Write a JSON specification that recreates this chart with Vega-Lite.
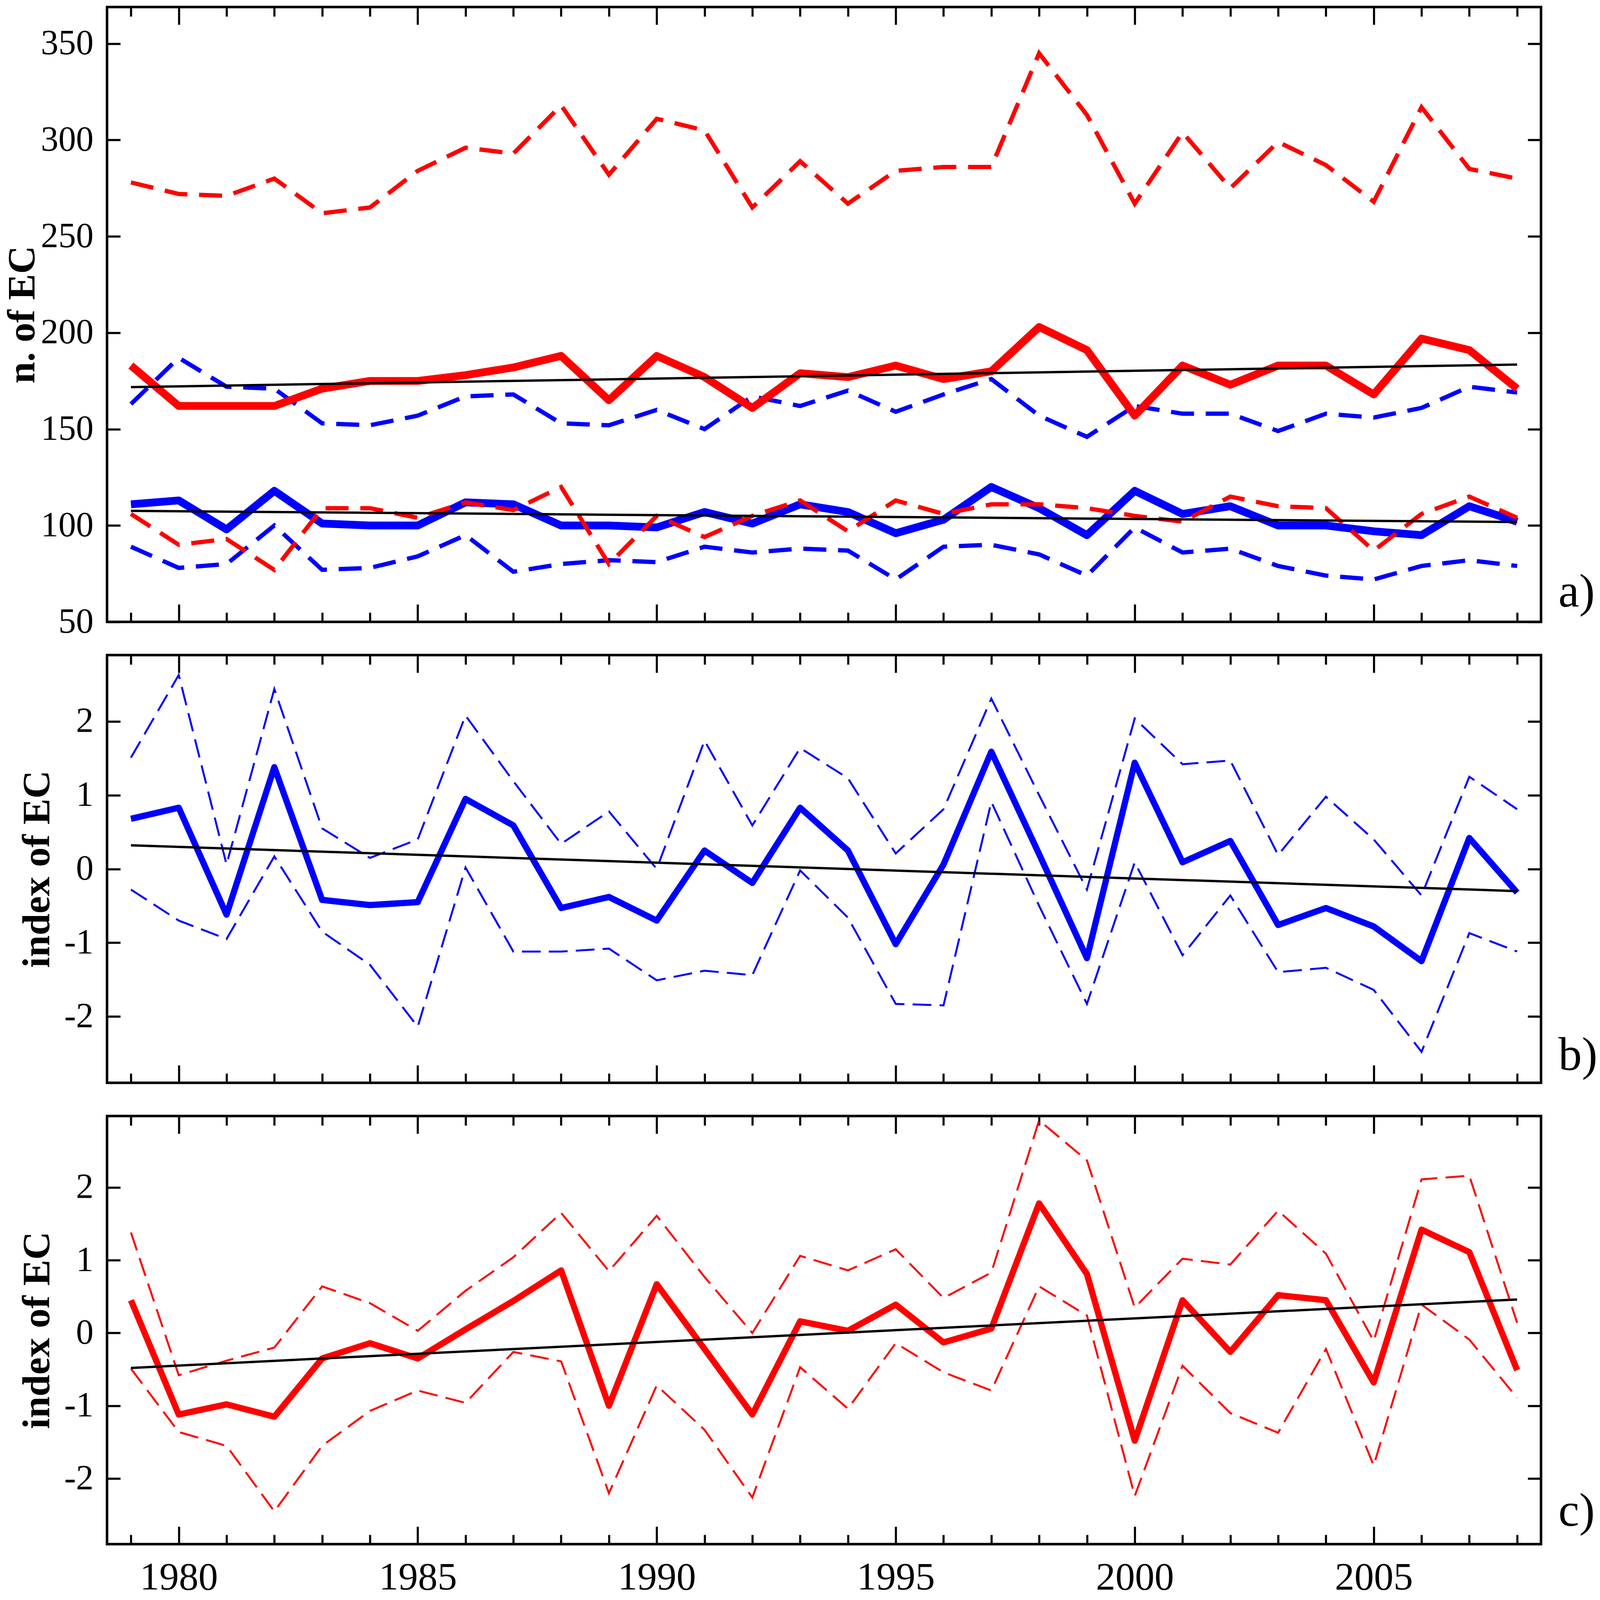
{
  "$schema": "https://vega.github.io/schema/vega-lite/v6.json",
  "background": "white",
  "padding": {"left": 3, "top": 12, "right": 0, "bottom": 0},
  "spacing": 85,
  "bounds": "flush",
  "config": {
    "view": {"stroke": "black", "strokeWidth": 6.5},
    "axis": {
      "domain": false, "grid": false,
      "tickColor": "black", "tickWidth": 5.4,
      "labelFont": "Liberation Serif", "labelFontSize": 90, "labelColor": "black", "labelLimit": 0,
      "titleFont": "Liberation Serif", "titleFontSize": 100, "titleFontWeight": "bold", "titleColor": "black", "titleLimit": 0,
      "titleBaseline": "alphabetic",
      "maxExtent": 2000
    }
  },
  "datasets": {
    "a": [
      {"year": 1979, "rd1": 278, "rs": 183, "bd1": 163, "bs": 111, "rd2": 106, "bd2": 89},
      {"year": 1980, "rd1": 272, "rs": 162, "bd1": 187, "bs": 113, "rd2": 90, "bd2": 78},
      {"year": 1981, "rd1": 271, "rs": 162, "bd1": 172, "bs": 98, "rd2": 93, "bd2": 80},
      {"year": 1982, "rd1": 280, "rs": 162, "bd1": 171, "bs": 118, "rd2": 77, "bd2": 100},
      {"year": 1983, "rd1": 262, "rs": 171, "bd1": 153, "bs": 101, "rd2": 109, "bd2": 77},
      {"year": 1984, "rd1": 265, "rs": 175, "bd1": 152, "bs": 100, "rd2": 109, "bd2": 78},
      {"year": 1985, "rd1": 284, "rs": 175, "bd1": 157, "bs": 100, "rd2": 104, "bd2": 84},
      {"year": 1986, "rd1": 296, "rs": 178, "bd1": 167, "bs": 112, "rd2": 112, "bd2": 95},
      {"year": 1987, "rd1": 293, "rs": 182, "bd1": 168, "bs": 111, "rd2": 108, "bd2": 76},
      {"year": 1988, "rd1": 318, "rs": 188, "bd1": 153, "bs": 100, "rd2": 120, "bd2": 80},
      {"year": 1989, "rd1": 282, "rs": 165, "bd1": 152, "bs": 100, "rd2": 80, "bd2": 82},
      {"year": 1990, "rd1": 311, "rs": 188, "bd1": 160, "bs": 99, "rd2": 105, "bd2": 81},
      {"year": 1991, "rd1": 305, "rs": 177, "bd1": 150, "bs": 107, "rd2": 94, "bd2": 89},
      {"year": 1992, "rd1": 265, "rs": 161, "bd1": 167, "bs": 101, "rd2": 105, "bd2": 86},
      {"year": 1993, "rd1": 289, "rs": 179, "bd1": 162, "bs": 111, "rd2": 113, "bd2": 88},
      {"year": 1994, "rd1": 267, "rs": 177, "bd1": 170, "bs": 107, "rd2": 97, "bd2": 87},
      {"year": 1995, "rd1": 284, "rs": 183, "bd1": 159, "bs": 96, "rd2": 113, "bd2": 72},
      {"year": 1996, "rd1": 286, "rs": 176, "bd1": 168, "bs": 103, "rd2": 106, "bd2": 89},
      {"year": 1997, "rd1": 286, "rs": 180, "bd1": 176, "bs": 120, "rd2": 111, "bd2": 90},
      {"year": 1998, "rd1": 345, "rs": 203, "bd1": 157, "bs": 109, "rd2": 111, "bd2": 85},
      {"year": 1999, "rd1": 313, "rs": 191, "bd1": 146, "bs": 95, "rd2": 109, "bd2": 74},
      {"year": 2000, "rd1": 267, "rs": 157, "bd1": 162, "bs": 118, "rd2": 105, "bd2": 99},
      {"year": 2001, "rd1": 304, "rs": 183, "bd1": 158, "bs": 106, "rd2": 102, "bd2": 86},
      {"year": 2002, "rd1": 275, "rs": 173, "bd1": 158, "bs": 110, "rd2": 115, "bd2": 88},
      {"year": 2003, "rd1": 299, "rs": 183, "bd1": 149, "bs": 100, "rd2": 110, "bd2": 79},
      {"year": 2004, "rd1": 287, "rs": 183, "bd1": 158, "bs": 100, "rd2": 109, "bd2": 74},
      {"year": 2005, "rd1": 268, "rs": 168, "bd1": 156, "bs": 97, "rd2": 87, "bd2": 72},
      {"year": 2006, "rd1": 317, "rs": 197, "bd1": 161, "bs": 95, "rd2": 106, "bd2": 79},
      {"year": 2007, "rd1": 285, "rs": 191, "bd1": 172, "bs": 110, "rd2": 115, "bd2": 82},
      {"year": 2008, "rd1": 280, "rs": 171, "bd1": 169, "bs": 102, "rd2": 104, "bd2": 79}
    ],
    "ta": [
      {"year": 1979, "t1": 171.8, "t2": 107.6},
      {"year": 2008, "t1": 183.5, "t2": 101.8}
    ],
    "b": [
      {"year": 1979, "s": 0.68, "u": 1.51, "l": -0.28},
      {"year": 1980, "s": 0.83, "u": 2.63, "l": -0.7},
      {"year": 1981, "s": -0.62, "u": 0.06, "l": -0.95},
      {"year": 1982, "s": 1.38, "u": 2.44, "l": 0.17},
      {"year": 1983, "s": -0.42, "u": 0.55, "l": -0.85},
      {"year": 1984, "s": -0.49, "u": 0.15, "l": -1.3},
      {"year": 1985, "s": -0.45, "u": 0.4, "l": -2.14},
      {"year": 1986, "s": 0.95, "u": 2.08, "l": 0.02},
      {"year": 1987, "s": 0.59, "u": 1.19, "l": -1.12},
      {"year": 1988, "s": -0.53, "u": 0.34, "l": -1.12},
      {"year": 1989, "s": -0.38, "u": 0.78, "l": -1.08},
      {"year": 1990, "s": -0.7, "u": 0.0, "l": -1.51},
      {"year": 1991, "s": 0.25, "u": 1.74, "l": -1.38},
      {"year": 1992, "s": -0.19, "u": 0.59, "l": -1.44},
      {"year": 1993, "s": 0.83, "u": 1.64, "l": -0.02},
      {"year": 1994, "s": 0.25, "u": 1.23, "l": -0.66},
      {"year": 1995, "s": -1.02, "u": 0.21, "l": -1.83},
      {"year": 1996, "s": 0.06, "u": 0.81, "l": -1.85},
      {"year": 1997, "s": 1.59, "u": 2.31, "l": 0.91},
      {"year": 1998, "s": 0.2, "u": 1.0, "l": -0.5},
      {"year": 1999, "s": -1.21, "u": -0.28, "l": -1.83},
      {"year": 2000, "s": 1.44, "u": 2.04, "l": 0.09},
      {"year": 2001, "s": 0.09, "u": 1.42, "l": -1.17},
      {"year": 2002, "s": 0.38, "u": 1.47, "l": -0.36},
      {"year": 2003, "s": -0.76, "u": 0.19, "l": -1.4},
      {"year": 2004, "s": -0.53, "u": 0.98, "l": -1.34},
      {"year": 2005, "s": -0.78, "u": 0.4, "l": -1.64},
      {"year": 2006, "s": -1.25, "u": -0.36, "l": -2.48},
      {"year": 2007, "s": 0.42, "u": 1.25, "l": -0.87},
      {"year": 2008, "s": -0.32, "u": 0.81, "l": -1.12}
    ],
    "tb": [
      {"year": 1979, "t": 0.32},
      {"year": 2008, "t": -0.3}
    ],
    "c": [
      {"year": 1979, "s": 0.45, "u": 1.38, "l": -0.49},
      {"year": 1980, "s": -1.12, "u": -0.58, "l": -1.36},
      {"year": 1981, "s": -0.98, "u": -0.38, "l": -1.55},
      {"year": 1982, "s": -1.15, "u": -0.2, "l": -2.45},
      {"year": 1983, "s": -0.35, "u": 0.64, "l": -1.55},
      {"year": 1984, "s": -0.14, "u": 0.41, "l": -1.07},
      {"year": 1985, "s": -0.35, "u": 0.03, "l": -0.79},
      {"year": 1986, "s": 0.05, "u": 0.58, "l": -0.96},
      {"year": 1987, "s": 0.44, "u": 1.04, "l": -0.26},
      {"year": 1988, "s": 0.86, "u": 1.65, "l": -0.39},
      {"year": 1989, "s": -1.0, "u": 0.85, "l": -2.2},
      {"year": 1990, "s": 0.67, "u": 1.61, "l": -0.72},
      {"year": 1991, "s": -0.22, "u": 0.77, "l": -1.33},
      {"year": 1992, "s": -1.12, "u": 0.0, "l": -2.26},
      {"year": 1993, "s": 0.16, "u": 1.06, "l": -0.47},
      {"year": 1994, "s": 0.03, "u": 0.86, "l": -1.04},
      {"year": 1995, "s": 0.39, "u": 1.15, "l": -0.14},
      {"year": 1996, "s": -0.13, "u": 0.48, "l": -0.54},
      {"year": 1997, "s": 0.06, "u": 0.83, "l": -0.79},
      {"year": 1998, "s": 1.78, "u": 2.92, "l": 0.64},
      {"year": 1999, "s": 0.81, "u": 2.37, "l": 0.24},
      {"year": 2000, "s": -1.48, "u": 0.35, "l": -2.24},
      {"year": 2001, "s": 0.45, "u": 1.02, "l": -0.45},
      {"year": 2002, "s": -0.26, "u": 0.94, "l": -1.1},
      {"year": 2003, "s": 0.52, "u": 1.68, "l": -1.37},
      {"year": 2004, "s": 0.45, "u": 1.09, "l": -0.22},
      {"year": 2005, "s": -0.68, "u": -0.11, "l": -1.82},
      {"year": 2006, "s": 1.42, "u": 2.11, "l": 0.39},
      {"year": 2007, "s": 1.11, "u": 2.16, "l": -0.09},
      {"year": 2008, "s": -0.51, "u": 0.14, "l": -0.89}
    ],
    "tc": [
      {"year": 1979, "t": -0.48},
      {"year": 2008, "t": 0.46}
    ]
  },
  "vconcat": [
    {
      "width": 3671,
      "height": 1574,
      "data": {"name": "a"},
      "encoding": {
        "x": {"field": "year", "type": "quantitative", "scale": {"domain": [1978.5, 2008.5], "nice": false, "zero": false}, "axis": null},
        "y": {"field": "v", "type": "quantitative", "scale": {"domain": [50, 369], "nice": false, "zero": false}, "axis": null}
      },
      "layer": [
        {
          "transform": [{"fold": ["bs"], "as": ["k", "v"]}],
          "mark": {"type": "line", "color": "#0000ff", "strokeWidth": 20, "strokeJoin": "round"},
          "encoding": {
            "x": {"field": "year", "type": "quantitative",
              "axis": {"orient": "bottom", "values": [1979, 1980, 1981, 1982, 1983, 1984, 1985, 1986, 1987, 1988, 1989, 1990, 1991, 1992, 1993, 1994, 1995, 1996, 1997, 1998, 1999, 2000, 2001, 2002, 2003, 2004, 2005, 2006, 2007, 2008],
                "labels": false, "title": null,
                "tickSize": {"condition": {"test": "datum.value % 5 === 0", "value": -45}, "value": -24}}},
            "y": {"field": "v", "type": "quantitative",
              "axis": {"orient": "left", "values": [50, 100, 150, 200, 250, 300, 350], "title": "n. of EC",
                "tickSize": -34, "labelPadding": 69, "titleX": -187}}
          }
        },
        {
          "transform": [{"fold": ["bd1", "bd2"], "as": ["k", "v"]}],
          "mark": {"type": "line", "color": "#0000ff", "strokeWidth": 11, "strokeDash": [59, 30]},
          "encoding": {"detail": {"field": "k"}}
        },
        {
          "transform": [{"fold": ["rs"], "as": ["k", "v"]}],
          "mark": {"type": "line", "color": "#ff0000", "strokeWidth": 20, "strokeJoin": "round"},
          "encoding": {"detail": {"field": "k"}}
        },
        {
          "transform": [{"fold": ["rd1", "rd2"], "as": ["k", "v"]}],
          "mark": {"type": "line", "color": "#ff0000", "strokeWidth": 11, "strokeDash": [59, 30]},
          "encoding": {"detail": {"field": "k"}}
        },
        {
          "data": {"name": "ta"},
          "transform": [{"fold": ["t1", "t2"], "as": ["k", "v"]}],
          "mark": {"type": "line", "color": "black", "strokeWidth": 6},
          "encoding": {
            "detail": {"field": "k"},
            "x": {"field": "year", "type": "quantitative",
              "axis": {"orient": "top", "values": [1979, 1980, 1981, 1982, 1983, 1984, 1985, 1986, 1987, 1988, 1989, 1990, 1991, 1992, 1993, 1994, 1995, 1996, 1997, 1998, 1999, 2000, 2001, 2002, 2003, 2004, 2005, 2006, 2007, 2008],
                "labels": false, "title": null,
                "tickSize": {"condition": {"test": "datum.value % 5 === 0", "value": -45}, "value": -24}}},
            "y": {"field": "v", "type": "quantitative",
              "axis": {"orient": "right", "values": [50, 100, 150, 200, 250, 300, 350], "labels": false, "tickSize": -34,
                "title": "a)", "titleAngle": 0, "titleAlign": "left", "titleX": 44, "titleY": 1534,
                "titleFontWeight": "normal", "titleFontSize": 120}}
          }
        }
      ],
      "resolve": {"axis": {"x": "independent", "y": "independent"}}
    },
    {
      "width": 3671,
      "height": 1095,
      "data": {"name": "b"},
      "encoding": {
        "x": {"field": "year", "type": "quantitative", "scale": {"domain": [1978.5, 2008.5], "nice": false, "zero": false}, "axis": null},
        "y": {"field": "v", "type": "quantitative", "scale": {"domain": [-2.9, 2.9], "nice": false, "zero": false}, "axis": null}
      },
      "layer": [
        {
          "transform": [{"fold": ["u", "l"], "as": ["k", "v"]}],
          "mark": {"type": "line", "color": "#0000ff", "strokeWidth": 5, "strokeDash": [48, 21]},
          "encoding": {
            "detail": {"field": "k"},
            "x": {"field": "year", "type": "quantitative",
              "axis": {"orient": "bottom", "values": [1979, 1980, 1981, 1982, 1983, 1984, 1985, 1986, 1987, 1988, 1989, 1990, 1991, 1992, 1993, 1994, 1995, 1996, 1997, 1998, 1999, 2000, 2001, 2002, 2003, 2004, 2005, 2006, 2007, 2008],
                "labels": false, "title": null,
                "tickSize": {"condition": {"test": "datum.value % 5 === 0", "value": -45}, "value": -24}}},
            "y": {"field": "v", "type": "quantitative",
              "axis": {"orient": "left", "values": [-2, -1, 0, 1, 2], "labelExpr": "'' + datum.value", "title": "index of EC",
                "tickSize": -34, "labelPadding": 69, "titleX": -149}}
          }
        },
        {
          "transform": [{"fold": ["s"], "as": ["k", "v"]}],
          "mark": {"type": "line", "color": "#0000ff", "strokeWidth": 16, "strokeJoin": "round"},
          "encoding": {"detail": {"field": "k"}}
        },
        {
          "data": {"name": "tb"},
          "transform": [{"fold": ["t"], "as": ["k", "v"]}],
          "mark": {"type": "line", "color": "black", "strokeWidth": 6},
          "encoding": {
            "x": {"field": "year", "type": "quantitative",
              "axis": {"orient": "top", "values": [1979, 1980, 1981, 1982, 1983, 1984, 1985, 1986, 1987, 1988, 1989, 1990, 1991, 1992, 1993, 1994, 1995, 1996, 1997, 1998, 1999, 2000, 2001, 2002, 2003, 2004, 2005, 2006, 2007, 2008],
                "labels": false, "title": null,
                "tickSize": {"condition": {"test": "datum.value % 5 === 0", "value": -45}, "value": -24}}},
            "y": {"field": "v", "type": "quantitative",
              "axis": {"orient": "right", "values": [-2, -1, 0, 1, 2], "labels": false, "tickSize": -34,
                "title": "b)", "titleAngle": 0, "titleAlign": "left", "titleX": 44, "titleY": 1061,
                "titleFontWeight": "normal", "titleFontSize": 120}}
          }
        }
      ],
      "resolve": {"axis": {"x": "independent", "y": "independent"}}
    },
    {
      "width": 3671,
      "height": 1096,
      "data": {"name": "c"},
      "encoding": {
        "x": {"field": "year", "type": "quantitative", "scale": {"domain": [1978.5, 2008.5], "nice": false, "zero": false}, "axis": null},
        "y": {"field": "v", "type": "quantitative", "scale": {"domain": [-2.9, 2.98], "nice": false, "zero": false}, "axis": null}
      },
      "layer": [
        {
          "transform": [{"fold": ["u", "l"], "as": ["k", "v"]}],
          "mark": {"type": "line", "color": "#ff0000", "strokeWidth": 5, "strokeDash": [48, 21]},
          "encoding": {
            "detail": {"field": "k"},
            "x": {"field": "year", "type": "quantitative",
              "axis": {"orient": "bottom", "values": [1979, 1980, 1981, 1982, 1983, 1984, 1985, 1986, 1987, 1988, 1989, 1990, 1991, 1992, 1993, 1994, 1995, 1996, 1997, 1998, 1999, 2000, 2001, 2002, 2003, 2004, 2005, 2006, 2007, 2008],
                "labelExpr": "datum.value % 5 === 0 ? '' + datum.value : ''", "title": null, "labelPadding": 81, "labelFontSize": 100,
                "tickSize": {"condition": {"test": "datum.value % 5 === 0", "value": -45}, "value": -24}}},
            "y": {"field": "v", "type": "quantitative",
              "axis": {"orient": "left", "values": [-2, -1, 0, 1, 2], "labelExpr": "'' + datum.value", "title": "index of EC",
                "tickSize": -34, "labelPadding": 69, "titleX": -149}}
          }
        },
        {
          "transform": [{"fold": ["s"], "as": ["k", "v"]}],
          "mark": {"type": "line", "color": "#ff0000", "strokeWidth": 16, "strokeJoin": "round"},
          "encoding": {"detail": {"field": "k"}}
        },
        {
          "data": {"name": "tc"},
          "transform": [{"fold": ["t"], "as": ["k", "v"]}],
          "mark": {"type": "line", "color": "black", "strokeWidth": 6},
          "encoding": {
            "x": {"field": "year", "type": "quantitative",
              "axis": {"orient": "top", "values": [1979, 1980, 1981, 1982, 1983, 1984, 1985, 1986, 1987, 1988, 1989, 1990, 1991, 1992, 1993, 1994, 1995, 1996, 1997, 1998, 1999, 2000, 2001, 2002, 2003, 2004, 2005, 2006, 2007, 2008],
                "labels": false, "title": null,
                "tickSize": {"condition": {"test": "datum.value % 5 === 0", "value": -45}, "value": -24}}},
            "y": {"field": "v", "type": "quantitative",
              "axis": {"orient": "right", "values": [-2, -1, 0, 1, 2], "labels": false, "tickSize": -34,
                "title": "c)", "titleAngle": 0, "titleAlign": "left", "titleX": 44, "titleY": 1048,
                "titleFontWeight": "normal", "titleFontSize": 120}}
          }
        }
      ],
      "resolve": {"axis": {"x": "independent", "y": "independent"}}
    }
  ]
}
